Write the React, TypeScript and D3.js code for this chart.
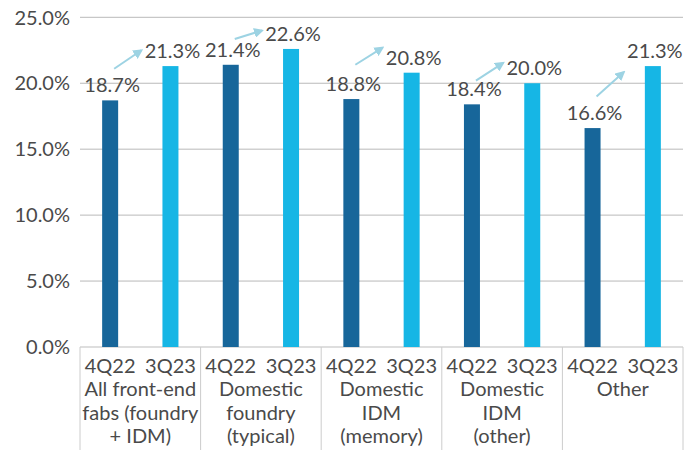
import * as d3 from 'd3';
import { useEffect, useRef } from 'react';

const groups = [
  ['All front-end', 'fabs (foundry', '+ IDM)'],
  ['Domestic', 'foundry', '(typical)'],
  ['Domestic', 'IDM', '(memory)'],
  ['Domestic', 'IDM', '(other)'],
  ['Other'],
];
const periods = ['4Q22', '3Q23'];
const values4Q22 = [18.7, 21.4, 18.8, 18.4, 16.6];
const values3Q23 = [21.3, 22.6, 20.8, 20.0, 21.3];
const yTicks = [0, 5, 10, 15, 20, 25];
// arrow start / end heights, in % units
const arrowFrom = [21.1, 23.35, 21.4, 20.2, 19.0];
const arrowTo = [22.5, 24.0, 22.7, 21.55, 20.85];

const App = (): React.ReactElement => {
  const ref: any = useRef();
  const width = 694;
  const height = 450;
  const left = 80;
  const right = 683;
  const bottom = 347;
  const top = 17.3;

  useEffect(() => {
    const svg = d3.select(ref.current).attr('width', width).attr('height', height);
    svg.selectAll('*').remove();
    const font = 'Lato, "Open Sans", sans-serif';
    const fontSize = 20;
    const textColor = '#4a4a4a';
    const colors = ['#17669a', '#16b6e5'];

    const xScale = d3
      .scaleBand()
      .range([left, right])
      .domain(groups.map((d, i) => String(i)));
    const xInner = d3.scaleBand().range([0, xScale.bandwidth()]).domain(periods);
    const yScale = d3.scaleLinear().domain([0, 25]).range([bottom, top]);

    const cx = (i: number, p: string) =>
      (xScale(String(i)) ?? 0) + (xInner(p) ?? 0) + xInner.bandwidth() / 2;

    // gridlines + y labels
    const grid = svg.append('g');
    grid
      .selectAll('line')
      .data(yTicks.filter((t) => t > 0))
      .enter()
      .append('line')
      .attr('x1', left)
      .attr('x2', right)
      .attr('y1', (d) => yScale(d))
      .attr('y2', (d) => yScale(d))
      .attr('stroke', '#b9b9b9')
      .attr('stroke-width', 1);
    grid
      .selectAll('text')
      .data(yTicks)
      .enter()
      .append('text')
      .attr('x', 70)
      .attr('y', (d) => yScale(d))
      .attr('dy', '0.36em')
      .attr('text-anchor', 'end')
      .attr('font-family', font)
      .attr('font-size', fontSize)
      .attr('fill', textColor)
      .text((d) => d.toFixed(1) + '%');

    // axis line and category boxes
    svg
      .append('line')
      .attr('x1', left)
      .attr('x2', right)
      .attr('y1', bottom)
      .attr('y2', bottom)
      .attr('stroke', '#bdbdbd');
    const seps = groups.map((d, i) => xScale(String(i)) ?? 0).concat([right]);
    svg
      .append('g')
      .selectAll('line')
      .data(seps)
      .enter()
      .append('line')
      .attr('x1', (d) => d)
      .attr('x2', (d) => d)
      .attr('y1', bottom)
      .attr('y2', height)
      .attr('stroke', '#cccccc');

    const series = [values4Q22, values3Q23];
    series.forEach((vals, s) => {
      const p = periods[s];
      const g = svg.append('g');
      g.selectAll('rect')
        .data(vals)
        .enter()
        .append('rect')
        .attr('x', (d, i) => cx(i, p) - 8)
        .attr('y', (d) => yScale(d))
        .attr('width', 16)
        .attr('height', (d) => bottom - yScale(d))
        .attr('fill', colors[s]);
      g.selectAll('text.val')
        .data(vals)
        .enter()
        .append('text')
        .attr('class', 'val')
        .attr('x', (d, i) => cx(i, p) + 2)
        .attr('y', (d) => yScale(d) - 8)
        .attr('text-anchor', 'middle')
        .attr('font-family', font)
        .attr('font-size', fontSize)
        .attr('fill', textColor)
        .text((d) => d.toFixed(1) + '%');
      g.selectAll('text.per')
        .data(vals)
        .enter()
        .append('text')
        .attr('class', 'per')
        .attr('x', (d, i) => cx(i, p))
        .attr('y', 373)
        .attr('text-anchor', 'middle')
        .attr('font-family', font)
        .attr('font-size', fontSize)
        .attr('fill', textColor)
        .text(p);
    });

    // category names
    groups.forEach((lines, i) => {
      const x = (xScale(String(i)) ?? 0) + xScale.bandwidth() / 2;
      svg
        .append('g')
        .selectAll('text')
        .data(lines)
        .enter()
        .append('text')
        .attr('x', x)
        .attr('y', (d, j) => 396 + j * 23.5)
        .attr('text-anchor', 'middle')
        .attr('font-family', font)
        .attr('font-size', fontSize)
        .attr('fill', textColor)
        .text((d) => d);
    });

    // arrows
    const arrowColor = '#9dd3e3';
    svg
      .append('defs')
      .append('marker')
      .attr('id', 'ah')
      .attr('viewBox', '0 0 10 10')
      .attr('refX', 8)
      .attr('refY', 5)
      .attr('markerWidth', 5)
      .attr('markerHeight', 5)
      .attr('orient', 'auto')
      .append('path')
      .attr('d', 'M0,0 L10,5 L0,10 Z')
      .attr('fill', arrowColor);
    svg
      .append('g')
      .selectAll('line')
      .data(arrowFrom)
      .enter()
      .append('line')
      .attr('x1', (d, i) => cx(i, periods[0]) + 4)
      .attr('y1', (d) => yScale(d))
      .attr('x2', (d, i) => cx(i, periods[1]) - 29)
      .attr('y2', (d, i) => yScale(arrowTo[i]))
      .attr('stroke', arrowColor)
      .attr('stroke-width', 2)
      .attr('marker-end', 'url(#ah)');
  }, []);

  return <svg ref={ref} style={{ position: 'absolute', left: 0, top: 0 }} />;
};

export default App;
